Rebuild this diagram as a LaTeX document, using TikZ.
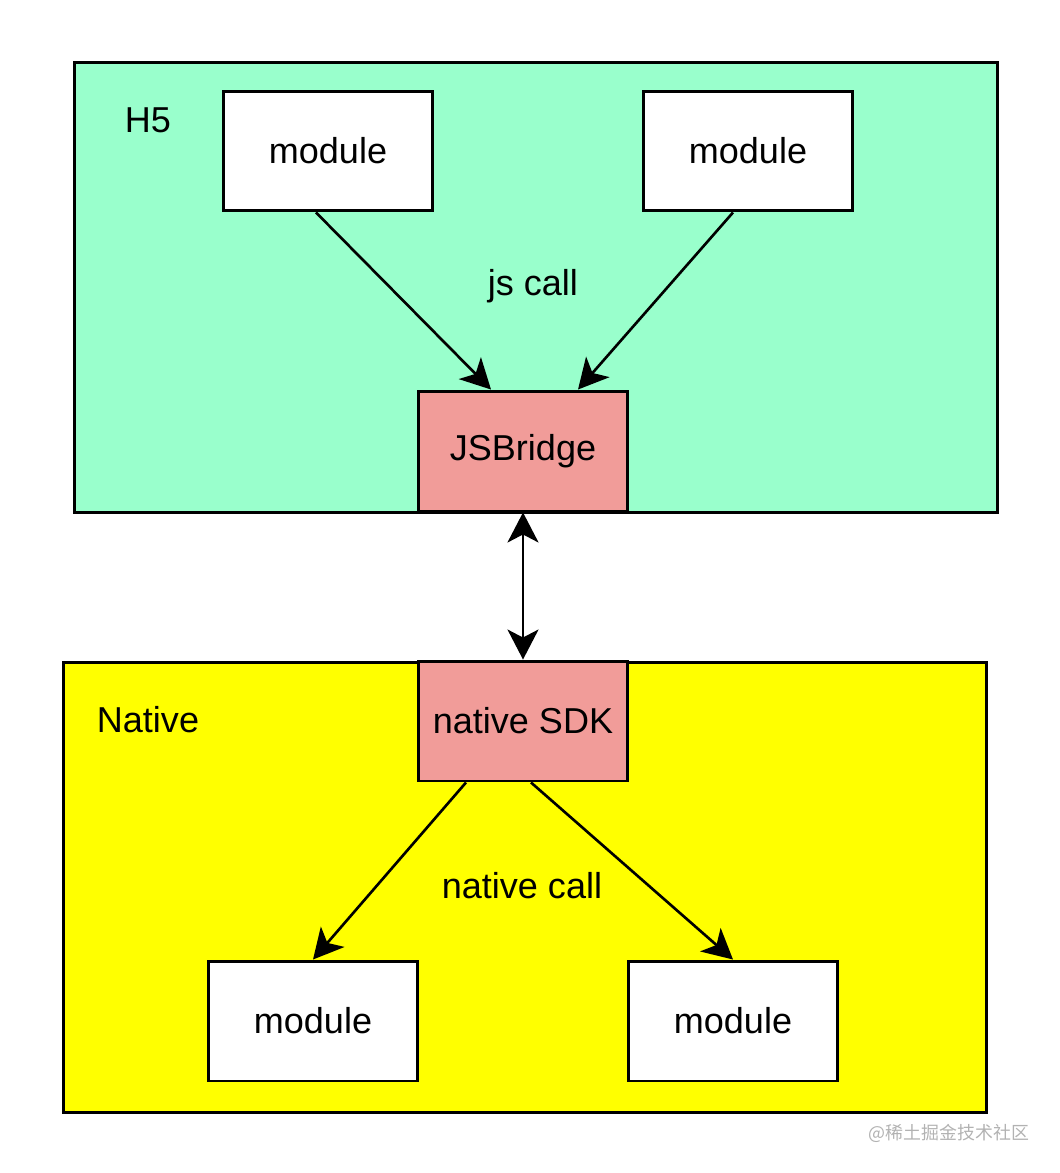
\documentclass[tikz,border=0pt]{standalone}
\usepackage{fontspec}
\setmainfont{Liberation Sans}
\newfontfamily\cjkfont{Noto Sans CJK SC}
\usetikzlibrary{arrows.meta,calc}
\definecolor{htmlgreen}{RGB}{153,255,204}
\definecolor{bridgered}{RGB}{241,156,153}
\definecolor{nativeyellow}{RGB}{255,255,0}

\begin{document}
\begin{tikzpicture}[x=0.02cm,y=-0.02cm,
  >={Stealth[length=0.6cm,width=0.62cm,inset=0.16cm]},
  layer/.style={draw,line width=1.7pt,anchor=north west,inner sep=0pt},
  modbox/.style={draw,line width=1.7pt,fill=white,minimum width=4.2cm,minimum height=2.4cm,inner sep=0pt,font=\fontsize{20.5}{24}\selectfont},
  sdkbox/.style={modbox,fill=bridgered},
  lbl/.style={font=\fontsize{20.5}{24}\selectfont},
  call/.style={->,line width=1.5pt}]
\useasboundingbox (0,0) rectangle (1059,1173);
% the two layers
\node[layer,fill=htmlgreen,minimum width=18.46cm,minimum height=9cm] (h5) at (73,61) {};
\node[layer,fill=nativeyellow,minimum width=18.46cm,minimum height=9cm] (native) at (62,661) {};
\node[lbl] (h5lbl) at (148,120) {H5};
\node[lbl] (nativelbl) at (148,720) {Native};
% H5 side
\node[modbox] (mtl) at (328,151) {module};
\node[modbox] (mtr) at (748,151) {module};
\node[sdkbox] (jsb) at (523,451) {JSBridge};
\node[lbl] (jscall) at (533,286) {js call};
% native side
\node[sdkbox] (sdk) at (523,721) {native SDK};
\node[modbox] (mbl) at (313,1021) {module};
\node[modbox] (mbr) at (733,1021) {module};
\node[lbl] (nativecall) at (522,886) {native call};
% calls
\draw[call] ($(mtl.south)+(-12,0)$) -- ($(jsb.north)+(-32,0)$);
\draw[call] ($(mtr.south)+(-15,0)$) -- ($(jsb.north)+(55,0)$);
\draw[call,<->] (jsb.south) -- (sdk.north);
\draw[call] ($(sdk.south)+(-57,0)$) -- (mbl.north);
\draw[call] ($(sdk.south)+(8,0)$) -- (mbr.north);
\node[text=black!30,font=\cjkfont\fontsize{10.2}{12}\selectfont] (mark) at (949,1133) {@稀土掘金技术社区};
\end{tikzpicture}
\end{document}
